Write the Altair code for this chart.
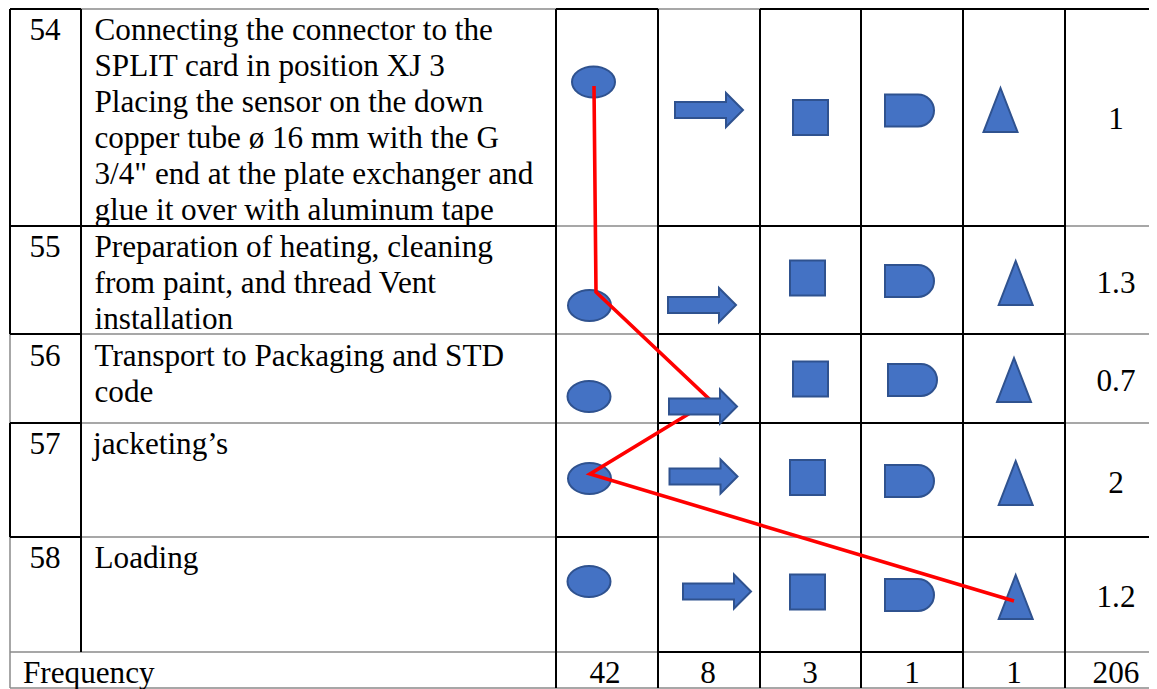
import altair as alt
import pandas as pd

FONT = "Liberation Serif"
FS = 31.2

# table text
row_ids = ["54", "55", "56", "57", "58"]
id_y = [29, 246, 355, 443, 557]
desc_lines = ["Connecting the connector to the", "SPLIT card in position XJ 3", "Placing the sensor on the down",
              "copper tube ø 16 mm with the G", "3/4\" end at the plate exchanger and", "glue it over with aluminum tape",
              "Preparation of heating, cleaning", "from paint, and thread Vent", "installation",
              "Transport to Packaging and STD", "code", "jacketing’s", "Loading", "Frequency"]
desc_x = [94.5, 94.5, 94.5, 94.5, 94.5, 94.5, 94.5, 94.5, 94.5, 94.5, 94.5, 93, 94.5, 23]
desc_y = [29, 65, 101, 137, 173, 209, 246, 282, 318, 355, 391, 443, 557, 672]
time_vals = ["1", "1.3", "0.7", "2", "1.2"]
time_y = [118, 282, 380, 482, 596]
freq_vals = ["42", "8", "3", "1", "1", "206"]
freq_x = [605, 708, 810, 912, 1014, 1116]
freq_y = 672

# symbols, one per row
ell_x = [593.5, 589.5, 589, 589.5, 589]
ell_y = [82, 305.5, 396.5, 478.5, 581.5]
arr_x = [709, 702, 703, 703.5, 717]
arr_y = [110, 305, 406.5, 476.5, 591.5]
sq_x = [810.5, 807.5, 810.5, 807.5, 807.5]
sq_y = [117.5, 278, 379, 477.5, 592]
d_x = [909.5, 909.5, 912.5, 909.5, 909.5]
d_y = [110.5, 281, 380, 481, 595]
tri_x = [1000.5, 1015.7, 1014, 1015.7, 1015.7]
tri_y = [110, 283, 380, 483, 597]

# red flow line
flow_x = [594, 596, 710.7, 590, 1014]
flow_y = [86, 292, 400.5, 474, 601]

# grid
v_black = [(10, 9, 334), (10, 423, 537), (81, 9, 652), (556, 9, 688), (658, 9, 688),
           (760, 9, 688), (861, 9, 688), (963, 9, 688), (1065, 9, 688)]
v_grey = [(10, 334, 423), (10, 537, 688)]
h_black = [(9, 10, 81), (9, 556, 658), (9, 760, 1149), (226, 10, 556), (226, 658, 1065),
           (334, 10, 81), (334, 658, 1065), (423, 10, 81), (423, 658, 1065),
           (537, 10, 81), (537, 556, 658), (537, 963, 1149), (652, 658, 963)]
h_grey = [(9, 81, 556), (9, 658, 760), (226, 556, 658), (226, 1065, 1149),
          (334, 81, 658), (334, 1065, 1149), (423, 81, 658), (423, 1065, 1149),
          (537, 81, 556), (537, 658, 963), (652, 10, 658), (652, 963, 1149), (688, 10, 1149)]

X = alt.Scale(domain=[8, 1149], range=[0, 1141])
Y = alt.Scale(domain=[8, 689], range=[0, 681])
xq = lambda f: alt.X(f, type="quantitative", scale=X, axis=None)
yq = lambda f: alt.Y(f, type="quantitative", scale=Y, axis=None)


def rules(v, h, color, width):
    rows = [dict(x=a, x2=a, y=b, y2=c) for a, b, c in v] + [dict(x=b, x2=c, y=a, y2=a) for a, b, c in h]
    return alt.Chart(pd.DataFrame(rows)).mark_rule(color=color, strokeWidth=width).encode(
        x=xq("x"), x2="x2", y=yq("y"), y2="y2")


def symbol(xs, ys, path):
    return alt.Chart(pd.DataFrame({"x": xs, "y": ys})).mark_point(
        shape=path, size=4, filled=True, fill="#4472C4", stroke="#2F528F", strokeWidth=2, opacity=1
    ).encode(x=xq("x"), y=yq("y"))


def texts(xs, ys, labels, align):
    return alt.Chart(pd.DataFrame({"x": xs, "y": ys, "t": labels})).mark_text(
        font=FONT, fontSize=FS, color="#000000", align=align, baseline="middle", dy=1.5
    ).encode(x=xq("x"), y=yq("y"), text="t:N")


ELLIPSE = "M-21.5,0A21.5,15.5 0 1,1 21.5,0A21.5,15.5 0 1,1 -21.5,0Z"
ARROW = "M-34,-8H17V-17L34,0L17,17V8H-34Z"
SQUARE = "M-17.5,-17.5H17.5V17.5H-17.5Z"
DEE = "M-24.5,-16H8.5A16,16 0 0 1 8.5,16H-24.5Z"
TRIANGLE = "M0,-22L17,22H-17Z"

flow = alt.Chart(pd.DataFrame({"x": flow_x, "y": flow_y, "o": range(5)})).mark_line(
    color="#FF0000", strokeWidth=3.6).encode(x=xq("x"), y=yq("y"), order="o:Q")

chart = alt.layer(
    rules(v_grey, h_grey, "#8a8a8a", 1.5),
    rules(v_black, h_black, "#000000", 2),
    texts([45] * 5, id_y, row_ids, "center"),
    texts(desc_x, desc_y, desc_lines, "left"),
    texts([1116] * 5, time_y, time_vals, "center"),
    texts(freq_x, [freq_y] * 6, freq_vals, "center"),
    symbol(ell_x, ell_y, ELLIPSE),
    symbol(sq_x, sq_y, SQUARE),
    symbol(d_x, d_y, DEE),
    symbol(tri_x, tri_y, TRIANGLE),
    flow,
    symbol(arr_x, arr_y, ARROW),
).properties(width=1141, height=681, padding=0, autosize=alt.AutoSizeParams(type="none"), background="white"
).configure_view(stroke=None)

chart.save("out.html", embed_options={"renderer": "svg", "actions": False})
